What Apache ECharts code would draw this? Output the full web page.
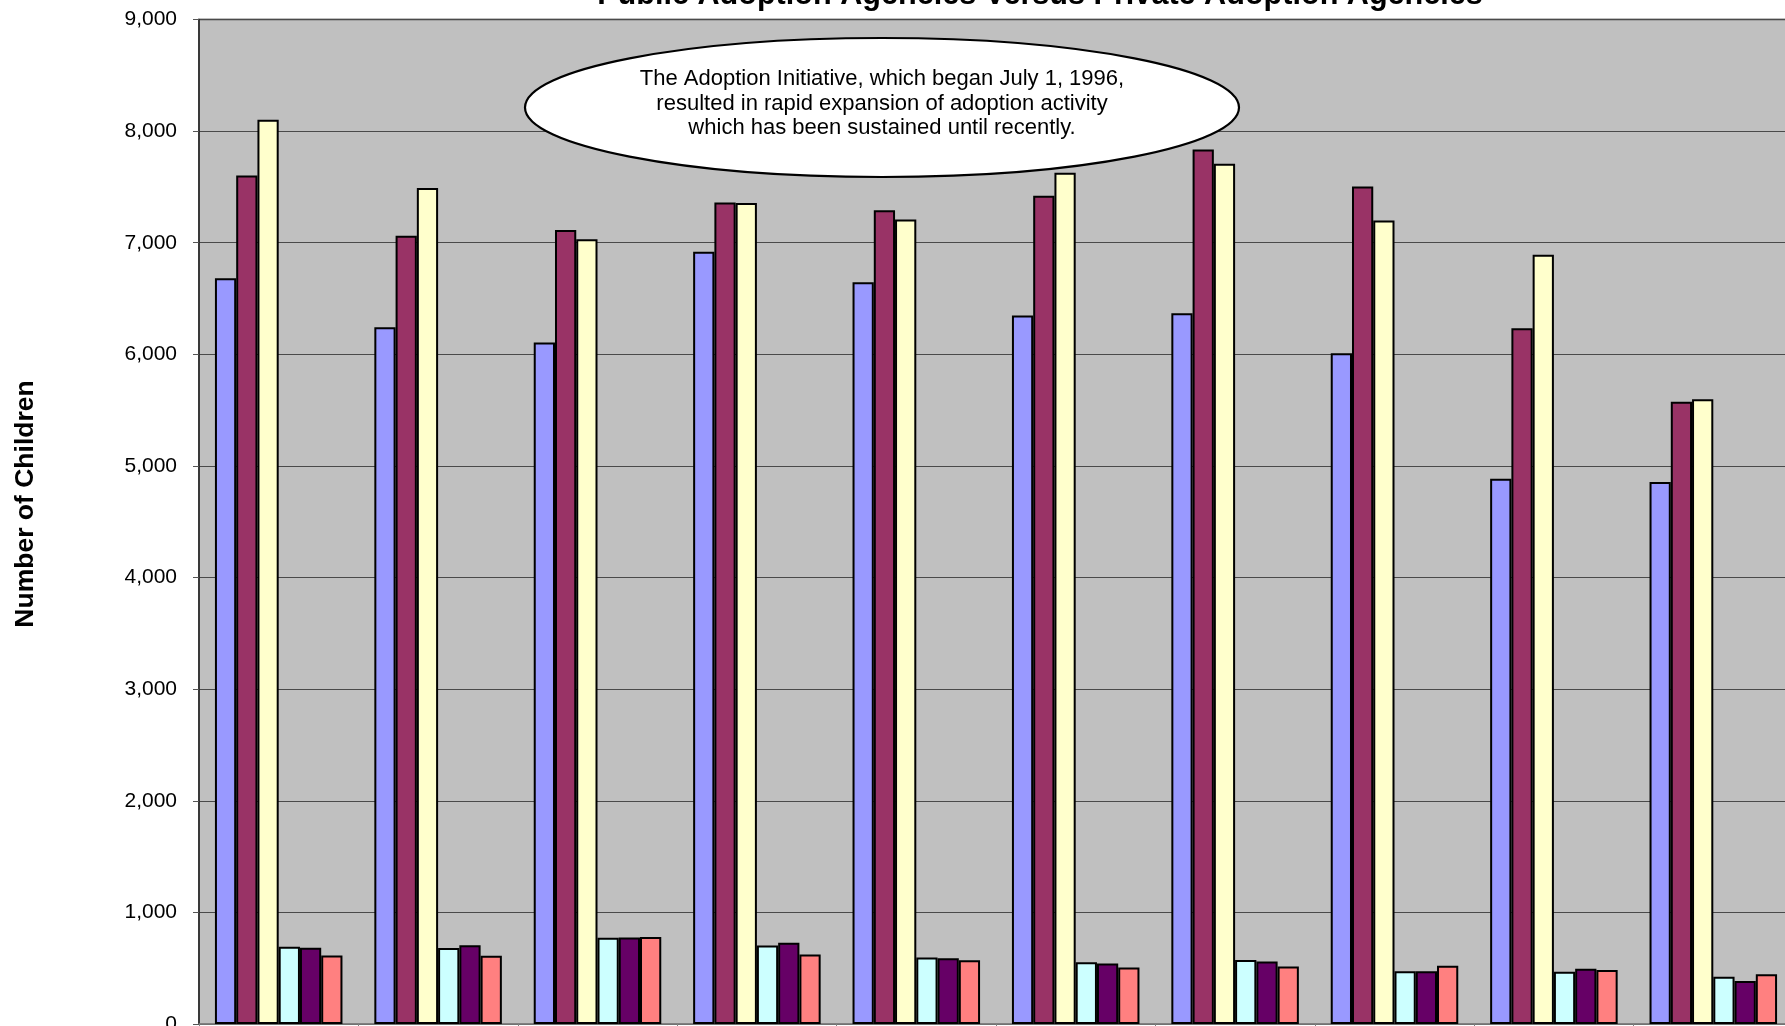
<!DOCTYPE html>
<html>
<head>
<meta charset="utf-8">
<script src="https://cdn.jsdelivr.net/npm/echarts@6/dist/echarts.min.js"></script>
<style>
html,body{margin:0;padding:0;background:#fff;}
#chart{width:1785px;height:1026px;}
</style>
</head>
<body>
<div id="chart"></div>
<script>
const categories = ['FY 96-97','FY 97-98','FY 98-99','FY 99-00','FY 00-01','FY 01-02','FY 02-03','FY 03-04','FY 04-05','FY 05-06'];
const seriesNames = ['Public Agencies A','Public Agencies B','Public Agencies C','Private Agencies A','Private Agencies B','Private Agencies C'];
const publicA  = [6682, 6242, 6105, 6920, 6645, 6348, 6368, 6010, 4885, 4856];
const publicB  = [7603, 7063, 7115, 7360, 7292, 7420, 7836, 7503, 6234, 5575];
const publicC  = [8101, 7491, 7030, 7355, 7208, 7628, 7708, 7198, 6892, 5598];
const privateA = [693, 681, 773, 704, 596, 554, 573, 472, 469, 424];
const privateB = [684, 705, 776, 728, 590, 542, 561, 472, 496, 385];
const privateC = [613, 611, 780, 623, 572, 506, 516, 522, 484, 445];
const yTicks = [0, 1000, 2000, 3000, 4000, 5000, 6000, 7000, 8000, 9000];
const titleText = 'Public Adoption Agencies Versus Private Adoption Agencies';
const noteText = 'The Adoption Initiative, which began July 1, 1996,\nresulted in rapid expansion of adoption activity\nwhich has been sustained until recently.';
const yName = 'Number of Children';

const colors = ['#9999FF','#993366','#FFFFCC','#CCFFFF','#660066','#FF8080'];
const allData = [publicA, publicB, publicC, privateA, privateB, privateC];
const FONT = '"Liberation Sans", Arial, sans-serif';

const chart = echarts.init(document.getElementById('chart'), null, {renderer:'canvas'});
chart.setOption({
  animation: false,
  backgroundColor: '#ffffff',
  grid: {
    left: 199, top: 19.5, bottom: 2, right: -8,
    show: true, backgroundColor: '#C0C0C0', borderColor: '#808080', borderWidth: 2,
    containLabel: false,
    outerBoundsMode: 'none'
  },
  xAxis: {
    type: 'category',
    data: categories,
    axisLine: {lineStyle: {color: '#808080', width: 1.5}},
    axisTick: {show: true, length: 6, lineStyle: {color: '#808080'}},
    axisLabel: {show: true, fontFamily: FONT, fontSize: 21, color: '#000'},
    splitLine: {show: false}
  },
  yAxis: {
    type: 'value',
    min: yTicks[0], max: yTicks[yTicks.length - 1], interval: 1000,
    axisLine: {show: true, lineStyle: {color: '#222', width: 1.5}},
    axisTick: {show: true, length: 6, lineStyle: {color: '#555'}},
    axisLabel: {
      margin: 22, fontFamily: FONT, fontSize: 21, color: '#000',
      formatter: v => v.toLocaleString('en-US')
    },
    splitLine: {show: true, lineStyle: {color: '#4a4a4a', width: 1.2}}
  },
  series: allData.map((d, i) => ({
    name: seriesNames[i],
    type: 'bar',
    data: d,
    barGap: '0%',
    barCategoryGap: '20%',
    itemStyle: {color: colors[i], borderColor: '#000', borderWidth: 2}
  })),
  graphic: [
    {
      type: 'text', z: 100,
      style: {text: titleText, x: 1040, y: -4.8, align: 'center', verticalAlign: 'middle',
        font: 'bold 30.6px ' + FONT, fill: '#000'}
    },
    {
      type: 'text', z: 100, x: 26, y: 504, rotation: Math.PI / 2,
      style: {text: yName, x: 0, y: 0, align: 'center', verticalAlign: 'middle',
        font: 'bold 26.5px ' + FONT, fill: '#000'}
    },
    {
      type: 'ellipse', z: 100,
      shape: {cx: 882, cy: 107.5, rx: 357, ry: 69.5},
      style: {fill: '#ffffff', stroke: '#000', lineWidth: 2.2}
    },
    {
      type: 'text', z: 101,
      style: {text: noteText, x: 882, y: 103.5, align: 'center', verticalAlign: 'middle',
        font: '22px ' + FONT, lineHeight: 24.5, fill: '#000'}
    }
  ]
});
</script>
</body>
</html>
